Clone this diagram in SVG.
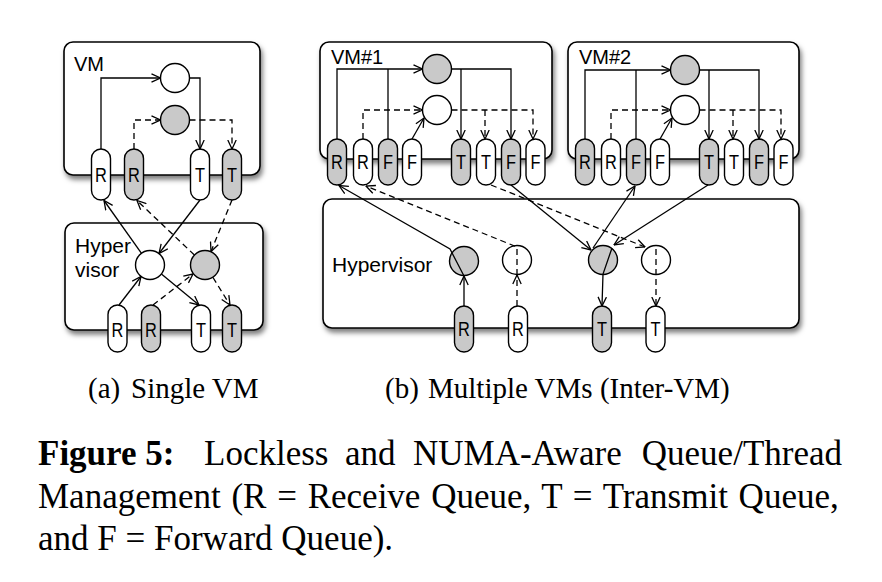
<svg xmlns="http://www.w3.org/2000/svg" width="882" height="582" viewBox="0 0 882 582">
<defs>
<style>
.box{fill:#fff;stroke:#000;stroke-width:1.6;filter:url(#sh)}
.pw{fill:#fff;stroke:#000;stroke-width:1.4}
.pg{fill:#c9c9c9;stroke:#000;stroke-width:1.4}
.q{font-family:"Liberation Sans",Arial,sans-serif;font-size:20px;text-anchor:middle}
.lbl{font-family:"Liberation Sans",Arial,sans-serif;font-size:20px}
.hv{font-family:"Liberation Sans",Arial,sans-serif;font-size:21px}
.cap{font-family:"Liberation Serif","Times New Roman",serif;font-size:29px}
.fig{font-family:"Liberation Serif","Times New Roman",serif;font-size:35px}
.ln{fill:none;stroke:#000;stroke-width:1.3;marker-end:url(#ah)}
.nl{fill:none;stroke:#000;stroke-width:1.3}
.d{stroke-dasharray:6 4}
</style>
<filter id="sh" x="-10%" y="-10%" width="130%" height="140%">
<feDropShadow dx="2" dy="4" stdDeviation="2.5" flood-color="#000" flood-opacity="0.5"/>
</filter>
<marker id="ah" viewBox="0 0 10 10" refX="9.5" refY="5" markerWidth="10" markerHeight="10" markerUnits="userSpaceOnUse" orient="auto">
<path d="M0.5,0.8 L9.5,5 L0.5,9.2" fill="none" stroke="#000" stroke-width="1.3"/>
</marker>
</defs>
<rect width="882" height="582" fill="#fff"/>

<!-- (a) Single VM -->
<g id="a-vm">
<rect class="box" x="64" y="42" width="196" height="133" rx="9"/>
<text class="lbl" x="74" y="71">VM</text>
</g>
<g id="a-vm-thread-w"><circle class="pw" cx="175" cy="78" r="14.5"/></g>
<g id="a-vm-thread-g"><circle class="pg" cx="175" cy="120" r="14.5"/></g>
<g id="a-vm-q1"><rect class="pw" x="91.5" y="149" width="19" height="51" rx="9.5"/><text class="q" transform="translate(101,182) scale(0.82,1)">R</text></g>
<g id="a-vm-q2"><rect class="pg" x="124.5" y="149" width="19" height="51" rx="9.5"/><text class="q" transform="translate(134,182) scale(0.82,1)">R</text></g>
<g id="a-vm-q3"><rect class="pw" x="190.5" y="149" width="19" height="51" rx="9.5"/><text class="q" transform="translate(200,182) scale(0.82,1)">T</text></g>
<g id="a-vm-q4"><rect class="pg" x="222.5" y="149" width="19" height="51" rx="9.5"/><text class="q" transform="translate(232,182) scale(0.82,1)">T</text></g>

<g id="a-hv">
<rect class="box" x="65" y="223" width="198" height="107" rx="9"/>
<text class="hv" x="75" y="253">Hyper</text>
<text class="hv" x="75" y="277">visor</text>
</g>
<g id="a-hv-thread-w"><circle class="pw" cx="150" cy="265" r="14.5"/></g>
<g id="a-hv-thread-g"><circle class="pg" cx="205" cy="265" r="14.5"/></g>
<g id="a-hv-q1"><rect class="pw" x="108" y="305" width="19" height="47" rx="9.5"/><text class="q" transform="translate(117.5,337) scale(0.82,1)">R</text></g>
<g id="a-hv-q2"><rect class="pg" x="141.5" y="305" width="19" height="47" rx="9.5"/><text class="q" transform="translate(151,337) scale(0.82,1)">R</text></g>
<g id="a-hv-q3"><rect class="pw" x="191.5" y="305" width="19" height="47" rx="9.5"/><text class="q" transform="translate(201,337) scale(0.82,1)">T</text></g>
<g id="a-hv-q4"><rect class="pg" x="222.5" y="305" width="19" height="47" rx="9.5"/><text class="q" transform="translate(232,337) scale(0.82,1)">T</text></g>

<!-- (b) Multiple VMs -->
<g id="b-vm1">
<rect class="box" x="320" y="42" width="232" height="117" rx="9"/>
<text class="lbl" x="331" y="64">VM#1</text>
</g>
<g id="b-vm1-thread-g"><circle class="pg" cx="437" cy="69" r="14.5"/></g>
<g id="b-vm1-thread-w"><circle class="pw" cx="437" cy="110" r="14.5"/></g>
<g id="b-vm1-q1"><rect class="pg" x="327.5" y="139" width="19" height="46" rx="9.5"/><text class="q" transform="translate(337,169) scale(0.82,1)">R</text></g>
<g id="b-vm1-q2"><rect class="pw" x="353.5" y="139" width="19" height="46" rx="9.5"/><text class="q" transform="translate(363,169) scale(0.82,1)">R</text></g>
<g id="b-vm1-q3"><rect class="pg" x="378.5" y="139" width="19" height="46" rx="9.5"/><text class="q" transform="translate(388,169) scale(0.82,1)">F</text></g>
<g id="b-vm1-q4"><rect class="pw" x="402.5" y="139" width="19" height="46" rx="9.5"/><text class="q" transform="translate(412,169) scale(0.82,1)">F</text></g>
<g id="b-vm1-q5"><rect class="pg" x="451.5" y="139" width="19" height="46" rx="9.5"/><text class="q" transform="translate(461,169) scale(0.82,1)">T</text></g>
<g id="b-vm1-q6"><rect class="pw" x="476.5" y="139" width="19" height="46" rx="9.5"/><text class="q" transform="translate(486,169) scale(0.82,1)">T</text></g>
<g id="b-vm1-q7"><rect class="pg" x="501.5" y="139" width="19" height="46" rx="9.5"/><text class="q" transform="translate(511,169) scale(0.82,1)">F</text></g>
<g id="b-vm1-q8"><rect class="pw" x="526" y="139" width="19" height="46" rx="9.5"/><text class="q" transform="translate(535.5,169) scale(0.82,1)">F</text></g>

<g id="b-vm2">
<rect class="box" x="568" y="42" width="231" height="117" rx="9"/>
<text class="lbl" x="579" y="64">VM#2</text>
</g>
<g id="b-vm2-thread-g"><circle class="pg" cx="685" cy="70" r="14.5"/></g>
<g id="b-vm2-thread-w"><circle class="pw" cx="685" cy="110" r="14.5"/></g>
<g id="b-vm2-q1"><rect class="pg" x="575.5" y="139" width="19" height="46" rx="9.5"/><text class="q" transform="translate(585,169) scale(0.82,1)">R</text></g>
<g id="b-vm2-q2"><rect class="pw" x="601.5" y="139" width="19" height="46" rx="9.5"/><text class="q" transform="translate(611,169) scale(0.82,1)">R</text></g>
<g id="b-vm2-q3"><rect class="pg" x="626.5" y="139" width="19" height="46" rx="9.5"/><text class="q" transform="translate(636,169) scale(0.82,1)">F</text></g>
<g id="b-vm2-q4"><rect class="pw" x="650.5" y="139" width="19" height="46" rx="9.5"/><text class="q" transform="translate(660,169) scale(0.82,1)">F</text></g>
<g id="b-vm2-q5"><rect class="pg" x="699.5" y="139" width="19" height="46" rx="9.5"/><text class="q" transform="translate(709,169) scale(0.82,1)">T</text></g>
<g id="b-vm2-q6"><rect class="pw" x="724.5" y="139" width="19" height="46" rx="9.5"/><text class="q" transform="translate(734,169) scale(0.82,1)">T</text></g>
<g id="b-vm2-q7"><rect class="pg" x="749.5" y="139" width="19" height="46" rx="9.5"/><text class="q" transform="translate(759,169) scale(0.82,1)">F</text></g>
<g id="b-vm2-q8"><rect class="pw" x="774" y="139" width="19" height="46" rx="9.5"/><text class="q" transform="translate(783.5,169) scale(0.82,1)">F</text></g>

<g id="b-hv">
<rect class="box" x="323" y="199" width="476" height="129" rx="9"/>
<text class="hv" x="332" y="272">Hypervisor</text>
</g>
<g id="b-hv-thread1"><circle class="pg" cx="464" cy="261" r="14.5"/></g>
<g id="b-hv-thread2"><circle class="pw" cx="517" cy="260" r="14.5"/></g>
<g id="b-hv-thread3"><circle class="pg" cx="603" cy="260" r="14.5"/></g>
<g id="b-hv-thread4"><circle class="pw" cx="656" cy="260" r="14.5"/></g>
<g id="b-hv-q1"><rect class="pg" x="454.5" y="306" width="19" height="46" rx="9.5"/><text class="q" transform="translate(464,336) scale(0.82,1)">R</text></g>
<g id="b-hv-q2"><rect class="pw" x="508.5" y="306" width="19" height="46" rx="9.5"/><text class="q" transform="translate(518,336) scale(0.82,1)">R</text></g>
<g id="b-hv-q3"><rect class="pg" x="592.5" y="306" width="19" height="46" rx="9.5"/><text class="q" transform="translate(602,336) scale(0.82,1)">T</text></g>
<g id="b-hv-q4"><rect class="pw" x="646" y="306" width="19" height="46" rx="9.5"/><text class="q" transform="translate(655.5,336) scale(0.82,1)">T</text></g>

<!-- connectors -->
<g id="connectors">
<path class="ln" d="M101,149 V78 H160.5"/>
<path class="ln" d="M189.5,78 H200 V149"/>
<path class="ln d" d="M134,149 V120 H160.5"/>
<path class="ln d" d="M189.5,120 H232 V149"/>
<path class="ln" d="M141.5,253.3 L104,200.5"/>
<path class="ln" d="M200,200 L159,253.5"/>
<path class="ln d" d="M194.4,255 L137,200.5"/>
<path class="ln d" d="M232,200 L211,251.5"/>
<path class="ln" d="M119,305 L141,276.5"/>
<path class="ln" d="M161.4,274 L199,305"/>
<path class="ln d" d="M153,305 L193,274"/>
<path class="ln d" d="M213,277.5 L230,305"/>

<path class="ln" d="M337,139 V69 H422.5"/>
<path class="nl" d="M388,139 V69"/>
<path class="ln" d="M451.5,69 H511 V139"/>
<path class="ln" d="M461,69 V139"/>
<path class="ln d" d="M363,139 V110 H422.5"/>
<path class="ln" d="M412,139 L424,118"/>
<path class="ln d" d="M451.5,110 H533 V139"/>
<path class="ln d" d="M485,110 V139"/>

<path class="ln" d="M585,139 V70 H670.5"/>
<path class="nl" d="M636,139 V70"/>
<path class="ln" d="M699.5,70 H759 V139"/>
<path class="ln" d="M709,70 V139"/>
<path class="ln d" d="M611,139 V110 H670.5"/>
<path class="ln" d="M660,139 L672,118"/>
<path class="ln d" d="M699.5,110 H781 V139"/>
<path class="ln d" d="M733,110 V139"/>

<path class="ln" d="M464,306 V276"/>
<path class="ln" d="M464,276 L450,249 L339,185.5"/>
<path class="ln d" d="M517,306 V275"/>
<path class="ln d" d="M517,275 V247 L366,186"/>
<path class="ln" d="M511,185 L591,250"/>
<path class="ln" d="M593,248 L635,186"/>
<path class="ln" d="M708,185 L614,245"/>
<path class="ln" d="M612,248 L603,274 L602,306"/>
<path class="ln d" d="M491,185 L645,247"/>
<path class="ln d" d="M656,249 V306"/>
</g>

<!-- captions -->
<g id="captions">
<text class="cap" x="88" y="398">(a)</text>
<text class="cap" x="131" y="398">Single VM</text>
<text class="cap" x="385" y="398">(b)</text>
<text class="cap" x="428" y="398">Multiple VMs (Inter-VM)</text>

<text class="fig" font-weight="bold" x="38" y="465">Figure 5:</text>
<text class="fig" x="204" y="465">Lockless</text>
<text class="fig" x="345" y="465">and</text>
<text class="fig" x="413" y="465">NUMA-Aware</text>
<text class="fig" text-anchor="end" x="842" y="465">Queue/Thread</text>
<text class="fig" x="38" y="508" word-spacing="2">Management (R = Receive Queue, T = Transmit Queue,</text>
<text class="fig" x="38" y="550">and F = Forward Queue).</text>
</g>
</svg>
